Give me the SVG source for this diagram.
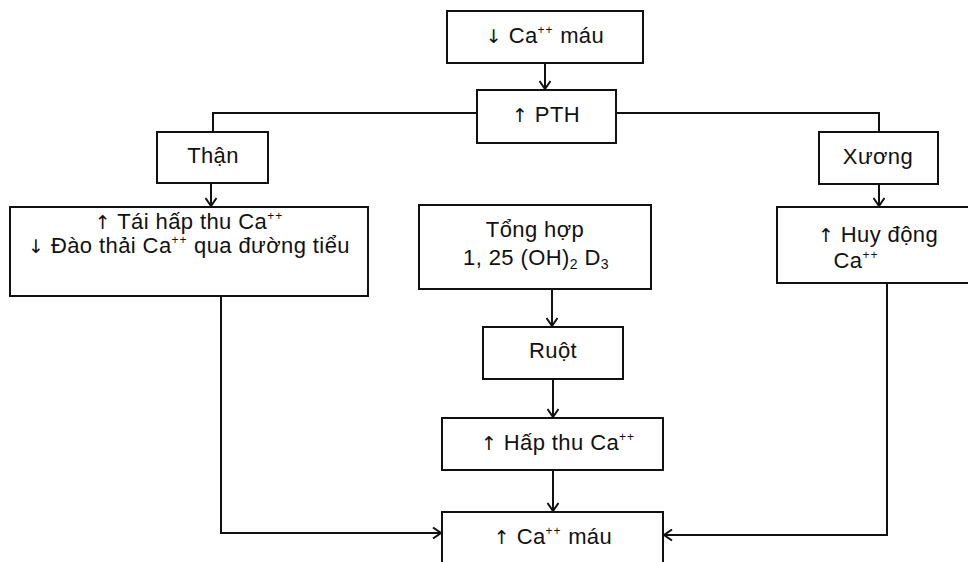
<svg xmlns="http://www.w3.org/2000/svg" width="968" height="562" viewBox="0 0 968 562">
<style>
.box{fill:#fff;stroke:#111;stroke-width:2}
.ln{fill:none;stroke:#111;stroke-width:2}
text{font-family:"Liberation Sans",Arial,sans-serif;font-size:22px;letter-spacing:0.4px;fill:#111;text-anchor:middle}
.ar{font-family:"DejaVu Sans",sans-serif;font-size:19px;fill:#111}
.sup{font-size:12px;letter-spacing:1px}
.sub{font-size:14px}
</style>
<defs>
<marker id="ah" viewBox="0 0 10 12" refX="9" refY="6" markerWidth="10" markerHeight="12" markerUnits="userSpaceOnUse" orient="auto">
<path d="M1,0.5 L9,6 L1,11.5" fill="none" stroke="#111" stroke-width="2"/>
</marker>
</defs>
<rect width="968" height="562" fill="#fff"/>
<g id="connectors">
<path class="ln" d="M545,63 V89" marker-end="url(#ah)"/>
<path class="ln" d="M477,113 H213 V132"/>
<path class="ln" d="M616,113 H879 V132"/>
<path class="ln" d="M211,183 V206" marker-end="url(#ah)"/>
<path class="ln" d="M879,184 V206" marker-end="url(#ah)"/>
<path class="ln" d="M552,289 V326" marker-end="url(#ah)"/>
<path class="ln" d="M553,379 V417" marker-end="url(#ah)"/>
<path class="ln" d="M553,470 V511" marker-end="url(#ah)"/>
<path class="ln" d="M221,296 V533 H441" marker-end="url(#ah)"/>
<path class="ln" d="M887,283 V535 H664" marker-end="url(#ah)"/>
</g>
<g id="n1">
<rect class="box" x="447" y="11" width="196" height="52"/>
<text x="545" y="43"><tspan class="ar">↓</tspan> Ca<tspan class="sup" dy="-9">++</tspan><tspan dy="9"> máu</tspan></text>
</g>
<g id="n2">
<rect class="box" x="477" y="90" width="139" height="53"/>
<text x="546" y="122"><tspan class="ar">↑</tspan> PTH</text>
</g>
<g id="n3">
<rect class="box" x="157" y="132" width="111" height="51"/>
<text x="213" y="163">Thận</text>
</g>
<g id="n4">
<rect class="box" x="819" y="132" width="119" height="52"/>
<text x="878" y="164">Xương</text>
</g>
<g id="n5">
<rect class="box" x="10" y="207" width="358" height="89"/>
<text x="189" y="229"><tspan class="ar">↑</tspan> Tái hấp thu Ca<tspan class="sup" dy="-9">++</tspan></text>
<text x="189" y="253"><tspan class="ar">↓</tspan> Đào thải Ca<tspan class="sup" dy="-9">++</tspan><tspan dy="9"> qua đường tiểu</tspan></text>
</g>
<g id="n6">
<rect class="box" x="419" y="205" width="232" height="84"/>
<text x="535" y="237">Tổng hợp</text>
<text x="536" y="265">1, 25 (OH)<tspan class="sub" dy="4">2</tspan><tspan dy="-4"> D</tspan><tspan class="sub" dy="4">3</tspan></text>
</g>
<g id="n7">
<rect class="box" x="777" y="207" width="200" height="76"/>
<text x="878" y="242"><tspan class="ar">↑</tspan> Huy động</text>
<text x="856" y="268">Ca<tspan class="sup" dy="-9">++</tspan></text>
</g>
<g id="n8">
<rect class="box" x="483" y="327" width="140" height="52"/>
<text x="553" y="358">Ruột</text>
</g>
<g id="n9">
<rect class="box" x="442" y="418" width="221" height="52"/>
<text x="558" y="450"><tspan class="ar">↑</tspan>  Hấp thu Ca<tspan class="sup" dy="-9">++</tspan></text>
</g>
<g id="n10">
<rect class="box" x="442" y="512" width="221" height="60"/>
<text x="553" y="544"><tspan class="ar">↑</tspan> Ca<tspan class="sup" dy="-9">++</tspan><tspan dy="9"> máu</tspan></text>
</g>
</svg>
